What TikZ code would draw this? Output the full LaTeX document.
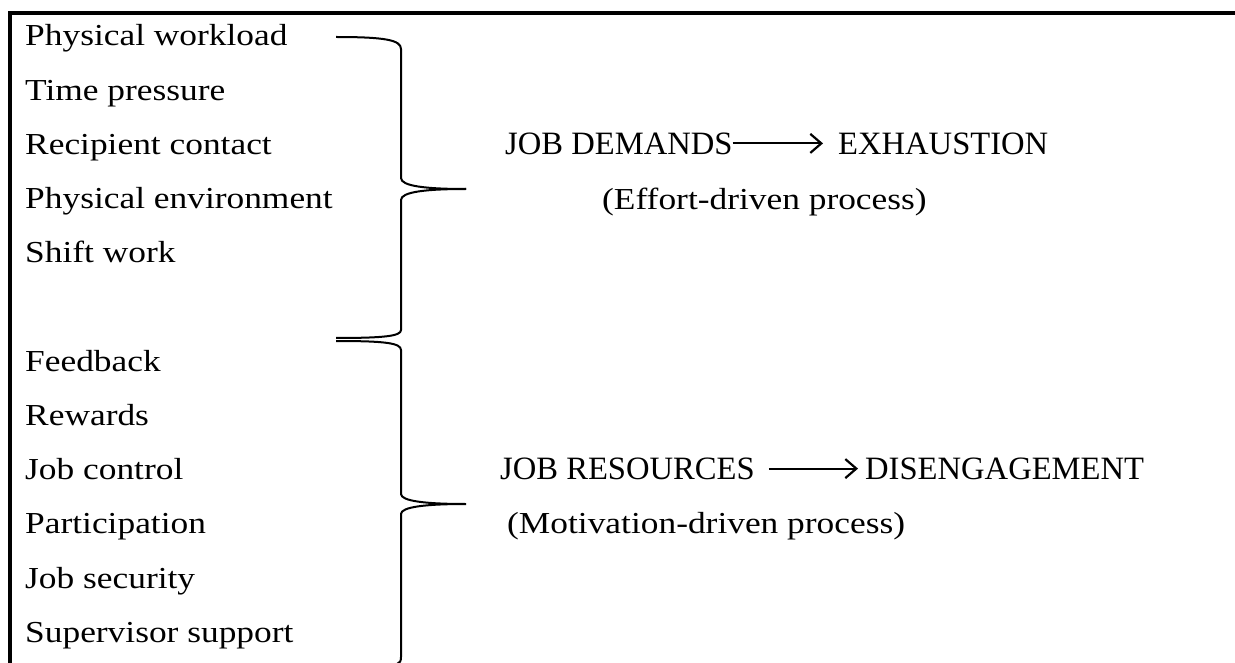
\documentclass[tikz,border=0pt]{standalone}
\usepackage{fontspec}
\setmainfont{Liberation Serif}
\newfontfamily\geo[FakeStretch=1.16]{Liberation Serif}
\usetikzlibrary{arrows.meta}
\begin{document}
\begin{tikzpicture}[x=1pt,y=-1pt,
  lefttext/.style={anchor=base west,inner sep=0pt,font=\geo\fontsize{30.5}{36}\selectfont},
  captext/.style={anchor=base west,inner sep=0pt,font=\fontsize{32.6}{39}\selectfont},
  bracepath/.style={line width=2pt},
  frameline/.style={line width=3.5pt},
  arr/.style={line width=2.2pt,-{Straight Barb[length=11pt,width=19pt]}}]
\useasboundingbox (0,0) rectangle (1235,663);
% frame
\draw[frameline] (10,663) -- (10,13) -- (1235,13);
% left lists
\node[lefttext] (l0) at (25,46) {Physical workload};
\node[lefttext] (l1) at (25,100.2) {Time pressure};
\node[lefttext] (l2) at (25,154.4) {Recipient contact};
\node[lefttext] (l3) at (25,208.6) {Physical environment};
\node[lefttext] (l4) at (25,262.8) {Shift work};
\node[lefttext] (l6) at (25,371.2) {Feedback};
\node[lefttext] (l7) at (25,425.4) {Rewards};
\node[lefttext] (l8) at (25,479.6) {Job control};
\node[lefttext] (l9) at (25,533.8) {Participation};
\node[lefttext] (l10) at (25,588) {Job security};
\node[lefttext] (l11) at (25,642.2) {Supervisor support};
% braces
\draw[bracepath] (336,37) .. controls (385,37) and (401,40) .. (401,49) -- (401,178)
  .. controls (401,186) and (425,189) .. (466,189);
\draw[bracepath] (466,189) .. controls (425,189) and (401,192) .. (401,200) -- (401,330)
  .. controls (401,336) and (385,338) .. (336,338);
\draw[bracepath] (336,341) .. controls (385,341) and (401,343) .. (401,350) -- (401,494)
  .. controls (401,501) and (425,504) .. (466,504)
  .. controls (425,504) and (401,507) .. (401,514) -- (401,657)
  .. controls (401,661) and (400,663) .. (397,664);
% right side
\node[captext] (jd) at (505,154.4) {JOB DEMANDS};
\node[captext] (ex) at (838,154.4) {EXHAUSTION};
\node[lefttext] (ed) at (602,209.5) {(Effort-driven process)};
\node[captext] (jr) at (500,479.6) {JOB RESOURCES};
\node[captext] (dis) at (865,479.6) {DISENGAGEMENT};
\node[lefttext] (md) at (507,533.8) {(Motivation-driven process)};
\draw[arr] ([yshift=11pt]jd.base east) -- ([yshift=11pt,xshift=-15pt]ex.base west);
\draw[arr] ([yshift=11pt,xshift=14pt]jr.base east) -- ([yshift=11pt,xshift=-7pt]dis.base west);
\end{tikzpicture}
\end{document}
